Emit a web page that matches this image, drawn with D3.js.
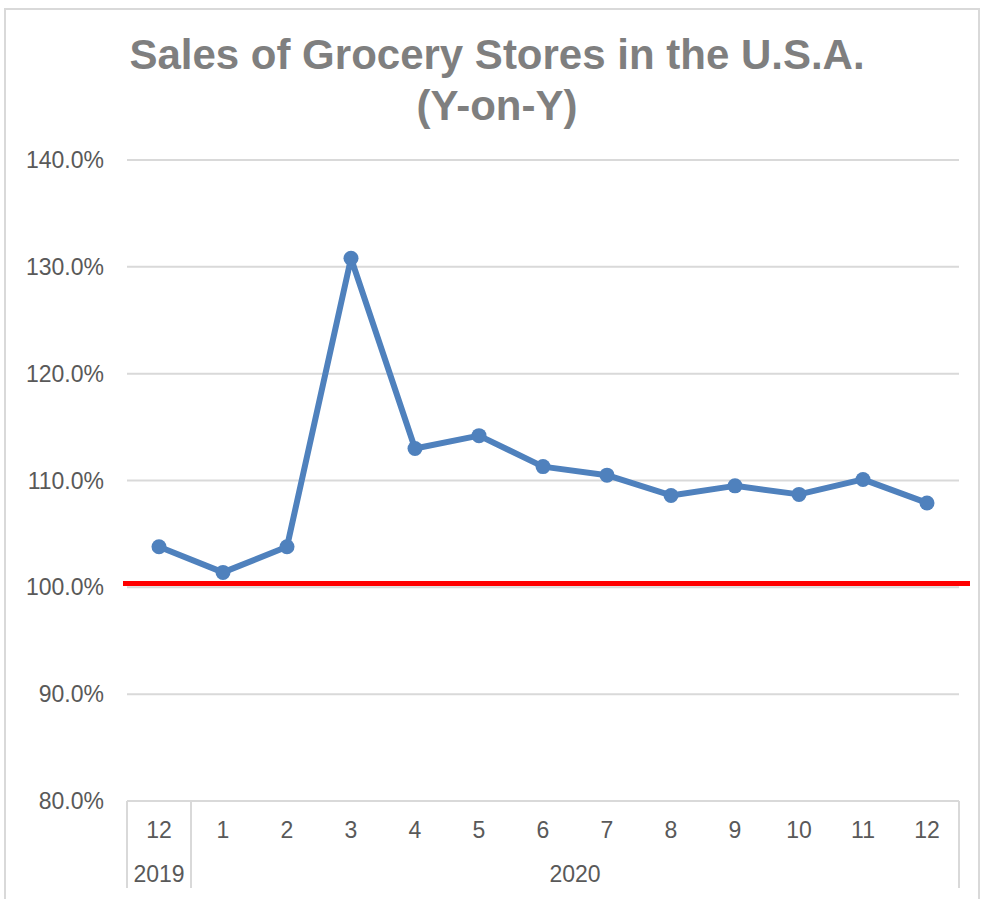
<!DOCTYPE html>
<html>
<head>
    <meta charset="utf-8">
    <style>
        body { margin: 0; background: #fff; }
        text { font-family: "Liberation Sans", Arial, sans-serif; }
        .grid line { stroke: #d9d9d9; stroke-width: 2px; }
        .ylab { fill: #595959; font-size: 23px; }
        .xlab { fill: #595959; font-size: 23px; }
        .title { fill: #7f7f7f; font-size: 42px; font-weight: bold; }
    </style>
</head>
<body>
<div id="chart"></div>
<script src="https://cdn.jsdelivr.net/npm/d3@7"></script>
<script>

    // data
    var months = ["12", "1", "2", "3", "4", "5", "6", "7", "8", "9", "10", "11", "12"];
    var years = [
        {label: "2019", from: 0, to: 0},
        {label: "2020", from: 1, to: 12}
    ];
    var values = [103.8, 101.4, 103.8, 130.8, 113.0, 114.2, 111.3, 110.5, 108.6, 109.5, 108.7, 110.1, 107.9];
    var yTicks = [80, 90, 100, 110, 120, 130, 140];
    var refValue = 100.35;

    var width = 982, height = 899;

    var svg = d3.select("#chart").append("svg")
        .attr("width", width)
        .attr("height", height);

    // chart frame
    svg.append("path")
        .attr("d", "M5,899 V9 H979 V899")
        .attr("fill", "none")
        .attr("stroke", "#d9d9d9")
        .attr("stroke-width", 2);

    var x = d3.scaleBand()
        .domain(d3.range(months.length))
        .range([127, 959]);

    var y = d3.scaleLinear()
        .domain([80, 140])
        .range([801, 160]);

    // title
    var title = svg.append("text")
        .attr("class", "title")
        .attr("text-anchor", "middle");
    title.append("tspan").attr("x", 497).attr("y", 69).text("Sales of Grocery Stores in the U.S.A.");
    title.append("tspan").attr("x", 497).attr("y", 120).text("(Y-on-Y)");

    // gridlines
    var grid = svg.append("g").attr("class", "grid");
    grid.selectAll("line")
        .data(yTicks)
        .enter()
        .append("line")
        .attr("x1", x.range()[0])
        .attr("x2", x.range()[1])
        .attr("y1", function (d) { return y(d); })
        .attr("y2", function (d) { return y(d); });

    svg.selectAll("text.ylab")
        .data(yTicks)
        .enter()
        .append("text")
        .attr("class", "ylab")
        .attr("x", 104)
        .attr("y", function (d) { return y(d); })
        .attr("dy", "0.35em")
        .attr("text-anchor", "end")
        .text(function (d) { return d3.format(".1f")(d) + "%"; });

    // category axis: months and year groups
    svg.selectAll("text.month")
        .data(months)
        .enter()
        .append("text")
        .attr("class", "xlab month")
        .attr("x", function (d, i) { return x(i) + x.bandwidth() / 2; })
        .attr("y", 830)
        .attr("dy", "0.35em")
        .attr("text-anchor", "middle")
        .text(function (d) { return d; });

    svg.selectAll("text.year")
        .data(years)
        .enter()
        .append("text")
        .attr("class", "xlab year")
        .attr("x", function (d) { return (x(d.from) + x(d.to) + x.bandwidth()) / 2; })
        .attr("y", 874)
        .attr("dy", "0.35em")
        .attr("text-anchor", "middle")
        .text(function (d) { return d.label; });

    var seps = [x(0)].concat(years.map(function (d) { return x(d.to) + x.bandwidth(); }));
    grid.selectAll("line.sep")
        .data(seps)
        .enter()
        .append("line")
        .attr("class", "sep")
        .attr("x1", function (d) { return d; })
        .attr("x2", function (d) { return d; })
        .attr("y1", y(80))
        .attr("y2", 888);

    // reference line
    svg.append("line")
        .attr("x1", 123)
        .attr("x2", 970)
        .attr("y1", y(refValue))
        .attr("y2", y(refValue))
        .attr("stroke", "#ff0000")
        .attr("stroke-width", 5);

    // series
    var line = d3.line()
        .x(function (d, i) { return x(i) + x.bandwidth() / 2; })
        .y(function (d) { return y(d); });

    svg.append("path")
        .datum(values)
        .attr("d", line)
        .attr("fill", "none")
        .attr("stroke", "#4f81bd")
        .attr("stroke-width", 6)
        .attr("stroke-linejoin", "round");

    svg.selectAll("circle.pt")
        .data(values)
        .enter()
        .append("circle")
        .attr("class", "pt")
        .attr("cx", function (d, i) { return x(i) + x.bandwidth() / 2; })
        .attr("cy", function (d) { return y(d); })
        .attr("r", 7.5)
        .attr("fill", "#4f81bd");

</script>
</body>
</html>
